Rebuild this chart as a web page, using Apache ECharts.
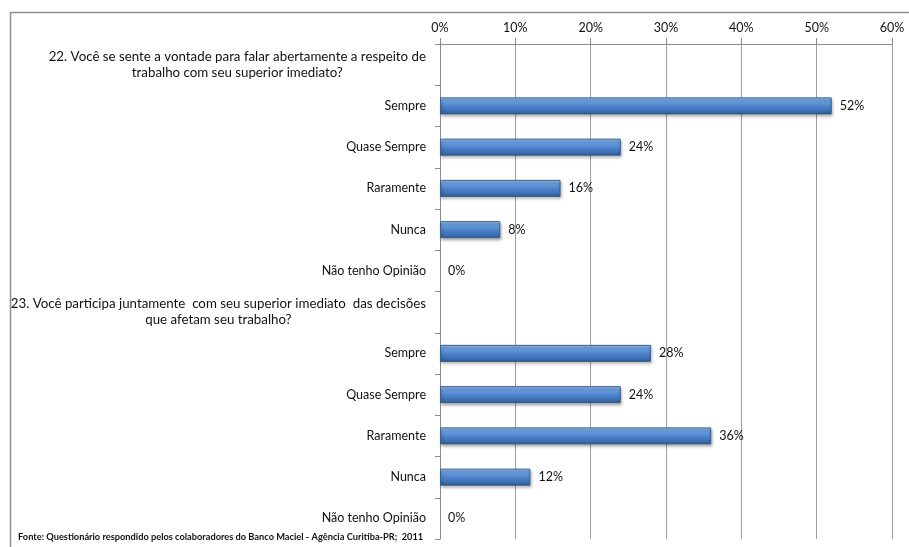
<!DOCTYPE html>
<html>
<head>
<meta charset="utf-8">
<script src="https://cdn.jsdelivr.net/npm/echarts@6/dist/echarts.min.js"></script>
<style>
  html, body { margin: 0; padding: 0; background: #ffffff; }
  #chart { width: 909px; height: 547px; }
</style>
</head>
<body>
<div id="chart"></div>
<script>
// Survey questions (shown as header rows) and the answer options
const q22Title = '22. Você se sente a vontade para falar abertamente a respeito de\ntrabalho com seu superior imediato?';
const q23Title = '23. Você participa juntamente  com seu superior imediato  das decisões\nque afetam seu trabalho?';
const answers = ['Sempre', 'Quase Sempre', 'Raramente', 'Nunca', 'Não tenho Opinião'];

// Share of respondents (%) per answer
const q22Values = [52, 24, 16, 8, 0];
const q23Values = [28, 24, 36, 12, 0];

// Percentage scale ticks
const xTicks = [0, 10, 20, 30, 40, 50, 60];

const sourceNote = 'Fonte: Questionário respondido pelos colaboradores do Banco Maciel - Agência Curitiba-PR;  2011';

// One row per header and per answer; header rows carry no bar
const categories = [q22Title].concat(answers, [q23Title], answers);
const values = [null].concat(q22Values, [null], q23Values);

const FONT = 'Lato';

// Zero-length bars get no outline or shadow so only their label shows
const barData = values.map(function (v) {
  if (v === 0) {
    return { value: v, itemStyle: { borderWidth: 0, shadowBlur: 0, shadowOffsetX: 0, shadowOffsetY: 0, shadowColor: 'transparent' } };
  }
  return v;
});

const chart = echarts.init(document.getElementById('chart'), null, { renderer: 'canvas' });

chart.setOption({
  animation: false,
  backgroundColor: '#ffffff',
  textStyle: { fontFamily: FONT },
  grid: { left: 440, right: 17, top: 44, bottom: 8, containLabel: false },
  graphic: [
    {
      type: 'rect',
      left: 8, top: 10,
      shape: { width: 940, height: 580 },
      style: { fill: 'none', stroke: '#8f8f8f', lineWidth: 1.5 },
      z: -1
    }
  ],
  title: {
    text: sourceNote,
    left: 13,
    bottom: 0,
    textStyle: { fontFamily: FONT, fontSize: 9.25, fontWeight: 'bold', color: '#111111' }
  },
  xAxis: {
    type: 'value',
    position: 'top',
    min: xTicks[0],
    max: xTicks[xTicks.length - 1],
    interval: xTicks[1] - xTicks[0],
    axisLine: { show: true, lineStyle: { color: '#8c8c8c', width: 1 } },
    axisTick: { show: true, length: 6, lineStyle: { color: '#8c8c8c' } },
    axisLabel: {
      formatter: '{value}%',
      fontFamily: FONT, fontSize: 12.5, color: '#111111', margin: 10
    },
    splitLine: { show: true, lineStyle: { color: '#9e9e9e', width: 1 } }
  },
  yAxis: {
    type: 'category',
    inverse: true,
    data: categories,
    axisLine: { show: true, lineStyle: { color: '#8c8c8c', width: 1 } },
    axisTick: { show: true, length: 5, lineStyle: { color: '#8c8c8c' } },
    axisLabel: {
      interval: 0,
      margin: 14,
      fontFamily: FONT, fontSize: 12.5, color: '#111111',
      lineHeight: 16,
      formatter: function (v) {
        if (v.indexOf('\n') >= 0) {
          return v.split('\n').map(function (l) { return '{h|' + l + '}'; }).join('\n');
        }
        return v;
      },
      rich: {
        h: { align: 'center', fontFamily: FONT, fontSize: 13.3, color: '#111111', lineHeight: 16 }
      }
    }
  },
  series: [
    {
      type: 'bar',
      data: barData,
      barWidth: 17,
      itemStyle: {
        color: new echarts.graphic.LinearGradient(0, 0, 0, 1, [
          { offset: 0, color: '#a6c8f2' },
          { offset: 0.18, color: '#6fa2e2' },
          { offset: 0.55, color: '#4b82ca' },
          { offset: 0.85, color: '#3a6cae' },
          { offset: 1, color: '#2b5288' }
        ]),
        borderColor: '#36608f',
        borderWidth: 1,
        shadowColor: 'rgba(0,0,0,0.35)',
        shadowBlur: 3,
        shadowOffsetX: 1,
        shadowOffsetY: 2
      },
      label: {
        show: true,
        position: 'right',
        distance: 8,
        formatter: '{c}%',
        fontFamily: FONT, fontSize: 12.5, color: '#111111'
      }
    }
  ]
});
</script>
</body>
</html>
